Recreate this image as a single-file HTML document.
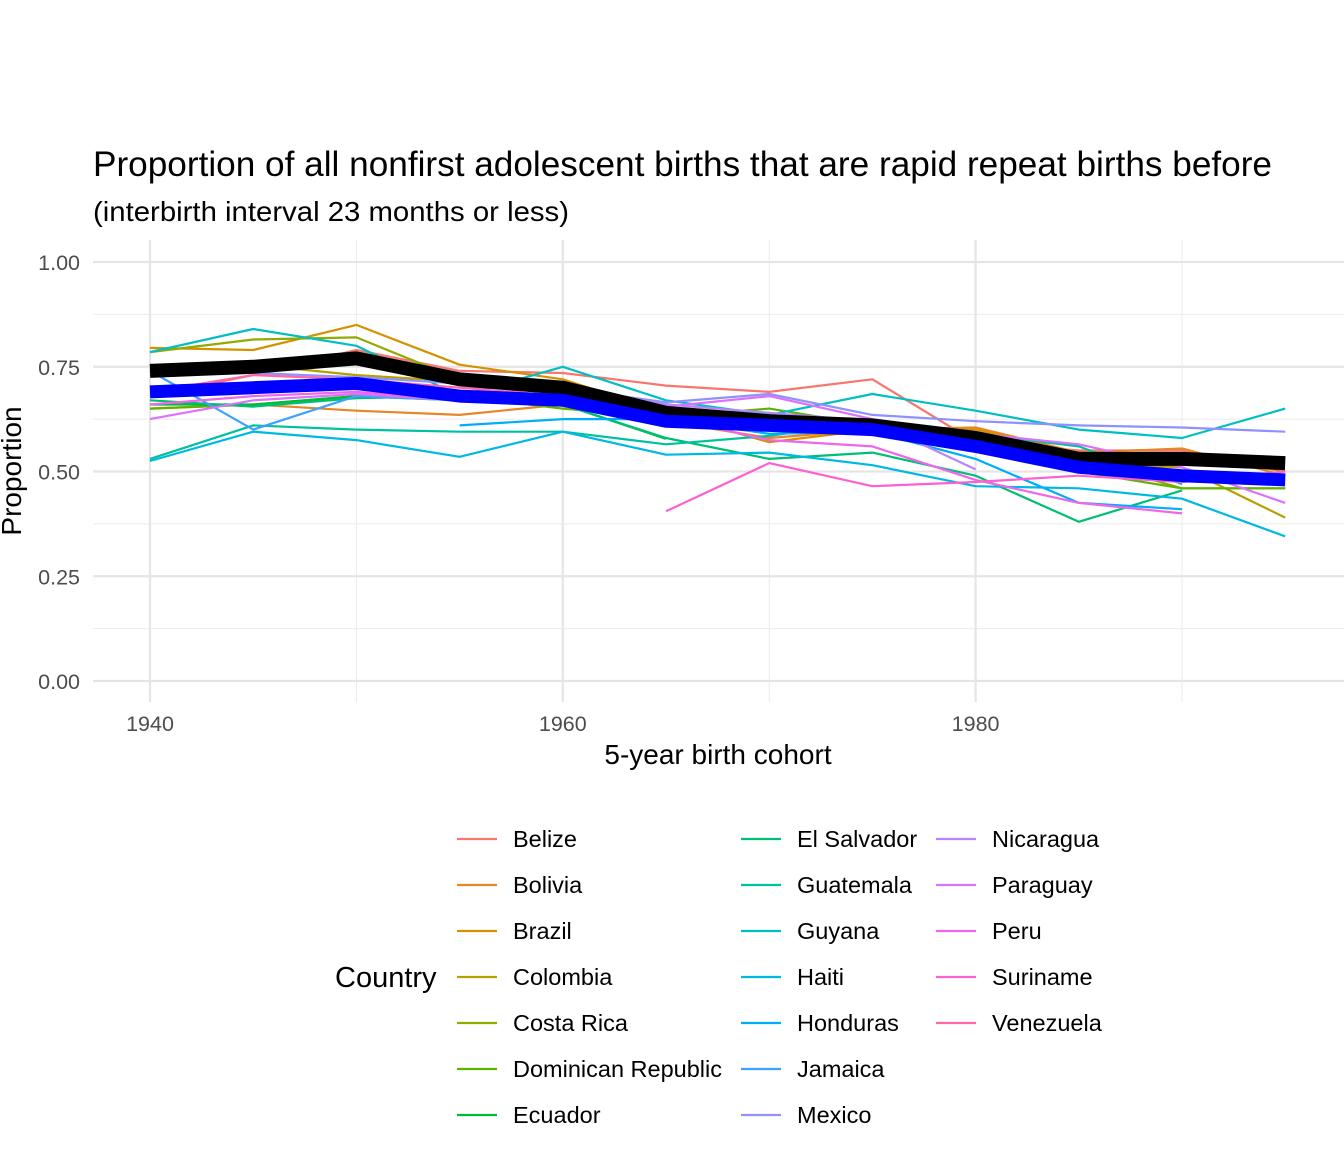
<!DOCTYPE html>
<html><head><meta charset="utf-8"><style>
body{margin:0;background:#fff;}
svg text{font-family:"Liberation Sans",Arial,sans-serif;}
</style></head><body>
<svg id="chart" width="1344" height="1152" viewBox="0 0 1344 1152">
<text x="93" y="176" font-size="35" textLength="1179" lengthAdjust="spacingAndGlyphs" fill="#000">Proportion of all nonfirst adolescent births that are rapid repeat births before</text>
<text x="93" y="221" font-size="28" textLength="476" lengthAdjust="spacingAndGlyphs" fill="#000">(interbirth interval 23 months or less)</text>
<g id="grid"></g>
<g id="series"></g>
<g id="axes"></g>
<text x="718" y="764" font-size="28" text-anchor="middle" fill="#000">5-year birth cohort</text>
<text transform="translate(21,471) rotate(-90)" font-size="28" text-anchor="middle" fill="#000">Proportion</text>
<text x="335" y="987" font-size="29" fill="#000">Country</text>
<g id="legend"></g>
</svg>
<script>
const years=[1940,1945,1950,1955,1960,1965,1970,1975,1980,1985,1990,1995];
const countries=["Belize","Bolivia","Brazil","Colombia","Costa Rica","Dominican Republic","Ecuador","El Salvador","Guatemala","Guyana","Haiti","Honduras","Jamaica","Mexico","Nicaragua","Paraguay","Peru","Suriname","Venezuela"];
const colors=["#F8766D","#E88526","#D39200","#B79F00","#93AA00","#5EB300","#00BA38","#00BF74","#00C19F","#00BFC4","#00B9E3","#00ADFA","#3DA1FF","#8F91FF","#B983FF","#DB72FB","#F066EA","#FD61D1","#FF67A4"];
const vBelize=[0.68,0.73,0.79,0.74,0.735,0.705,0.69,0.72,0.57,0.55,0.55,0.50];
const vBolivia=[0.65,0.66,0.645,0.635,0.66,0.62,0.58,0.60,0.605,0.545,0.555,0.49];
const vBrazil=[0.795,0.79,0.85,0.755,0.72,0.64,0.57,0.60,0.60,0.54,0.54,0.50];
const vColombia=[0.75,0.755,0.73,0.715,0.70,0.64,0.62,0.60,0.58,0.52,0.51,0.39];
const vCostaRica=[0.785,0.815,0.82,0.72,0.70,0.65,0.63,0.61,0.58,0.53,0.46,0.46];
const vDominican=[0.65,0.66,0.68,0.68,0.65,0.63,0.65,0.61,0.57,0.50,0.46,0.46];
const vEcuador=[0.66,0.66,0.68,0.67,0.66,0.578,null,null,null,null,null,null];
const vElSalvador=[0.67,0.655,0.675,0.68,0.66,0.58,0.53,0.545,0.49,0.38,0.455,null];
const vGuatemala=[0.53,0.61,0.60,0.595,0.595,0.565,0.585,0.62,0.59,0.56,0.47,null];
const vGuyana=[0.785,0.84,0.80,0.68,0.75,0.67,0.635,0.685,0.645,0.60,0.58,0.65];
const vHaiti=[0.525,0.595,0.575,0.535,0.595,0.54,0.545,0.515,0.465,0.46,0.435,0.345];
const vHonduras=[null,null,null,0.61,0.625,0.625,0.59,0.595,0.53,0.425,0.41,null];
const vJamaica=[0.74,0.60,0.68,0.67,0.66,0.62,0.60,0.60,0.55,0.50,0.49,0.48];
const vMexico=[0.73,0.735,0.725,0.71,0.70,0.665,0.685,0.635,0.62,0.61,0.605,0.595];
const vNicaragua=[null,null,null,0.70,0.70,0.66,0.64,0.62,0.505,null,null,null];
const vParaguay=[0.625,0.67,0.685,0.67,0.71,0.655,0.68,0.625,0.59,0.565,0.51,0.425];
const vPeru=[0.66,0.68,0.69,0.67,0.66,0.63,0.575,0.56,0.48,0.425,0.40,null];
const vSuriname=[null,null,null,null,null,0.405,0.52,0.465,0.475,0.49,0.475,0.50];
const vVenezuela=[0.69,0.73,0.72,0.70,0.68,0.64,0.62,0.60,0.56,0.52,0.48,0.47];
const seriesValues=[vBelize,vBolivia,vBrazil,vColombia,vCostaRica,vDominican,vEcuador,vElSalvador,vGuatemala,vGuyana,vHaiti,vHonduras,vJamaica,vMexico,vNicaragua,vParaguay,vPeru,vSuriname,vVenezuela];
const overallMean=[0.74,0.75,0.77,0.72,0.70,0.64,0.62,0.61,0.58,0.53,0.53,0.52];
const weightedMean=[0.69,0.70,0.71,0.68,0.67,0.62,0.61,0.60,0.56,0.51,0.49,0.48];
const yTicks=[0,0.25,0.5,0.75,1];
const yTickLabels=["0.00","0.25","0.50","0.75","1.00"];
const xTicks=[1940,1960,1980];

const NS="http://www.w3.org/2000/svg";
const X=y=>150+(y-1940)*20.64;
const Y=v=>681-v*419;
const L=93,R=1344,T=240,B=702;
function mk(tag,attrs,parent){const e=document.createElementNS(NS,tag);for(const k in attrs)e.setAttribute(k,attrs[k]);parent.appendChild(e);return e;}
const grid=document.getElementById('grid');
for(let v=0.125;v<1.1;v+=0.25){const g=mk('line',{x1:L,x2:R,y1:Y(v),y2:Y(v),stroke:'#ebebeb','stroke-width':1},grid);

}
[1950,1970,1990].forEach(yr=>{const g=mk('line',{x1:X(yr),x2:X(yr),y1:T,y2:B,stroke:'#ebebeb','stroke-width':1},grid);

});
yTicks.forEach((v,i)=>{const g=mk('line',{x1:L,x2:R,y1:Y(v),y2:Y(v),stroke:'#e5e5e5','stroke-width':2.2},grid);


const t=mk('text',{x:80,y:Y(v)+8,'font-size':21.5,'text-anchor':'end',fill:'#4d4d4d'},document.getElementById('axes'));
t.textContent=yTickLabels[i];

});
xTicks.forEach(yr=>{const g=mk('line',{x1:X(yr),x2:X(yr),y1:T,y2:B,stroke:'#e5e5e5','stroke-width':2.2},grid);


const t=mk('text',{x:X(yr),y:731,'font-size':21.5,'text-anchor':'middle',fill:'#4d4d4d'},document.getElementById('axes'));
t.textContent=yr;

});
function pathFor(vals){let d='',pen=false;vals.forEach((v,i)=>{if(v===null){pen=false;return;}d+=(pen?'L':'M')+X(years[i]).toFixed(1)+','+Y(v).toFixed(1);pen=true;});return d;}
const sg=document.getElementById('series');
seriesValues.forEach((vals,i)=>{const p=mk('path',{d:pathFor(vals),fill:'none',stroke:colors[i],'stroke-width':2.2,'stroke-linejoin':'round'},sg);

});
const pm=mk('path',{d:pathFor(overallMean),fill:'none',stroke:'#000','stroke-width':14,'stroke-linejoin':'round'},sg);


const pw=mk('path',{d:pathFor(weightedMean),fill:'none',stroke:'#0000ff','stroke-width':13,'stroke-linejoin':'round'},sg);


const lg=document.getElementById('legend');
const colX=[457,741,936];
countries.forEach((c,i)=>{const col=i<7?0:(i<14?1:2);const row=i<7?i:(i<14?i-7:i-14);const y=839+row*46;
const ln=mk('line',{x1:colX[col],x2:colX[col]+40,y1:y,y2:y,stroke:colors[i],'stroke-width':2.2},lg);


const t=mk('text',{x:colX[col]+56,y:y+8,'font-size':23.5,fill:'#000'},lg);t.textContent=c;

});
</script>
</body></html>
